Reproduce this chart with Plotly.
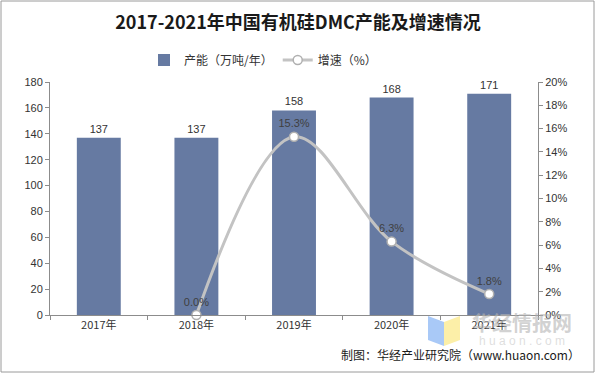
import plotly.graph_objects as go

categories = ["2017年", "2018年", "2019年", "2020年", "2021年"]
capacity = [137, 137, 158, 168, 171]
growth = [None, 0.0, 15.3, 6.3, 1.8]
growth_labels = ["", "0.0%", "15.3%", "6.3%", "1.8%"]

W, H = 596, 374
ml, mr, mt, mb = 50, 58, 82, 59
pw, ph = W - ml - mr, H - mt - mb

def px(x):
    return (x - ml) / pw

def py(y):
    return (H - mb - y) / ph

fig = go.Figure()
fig.add_trace(go.Bar(
    x=categories, y=capacity, name="产能（万吨/年）",
    marker=dict(color="#667AA2", line=dict(width=0)),
    width=0.45,
    text=[str(v) for v in capacity], textposition="outside",
    textfont=dict(family="Liberation Sans, Arial", size=11, color="#333333"),
    cliponaxis=False,
))
fig.add_trace(go.Scatter(
    x=categories, y=growth, name="增速（%）", yaxis="y2",
    mode="lines+markers+text",
    line=dict(color="#C3C3C3", width=3, shape="spline", smoothing=1.0),
    marker=dict(size=9, color="white", line=dict(color="#B0B0B0", width=1.5)),
    text=growth_labels, textposition="top center",
    textfont=dict(family="Liberation Sans, Arial", size=11, color="#404040"),
    cliponaxis=False, connectgaps=False,
))

fig.update_layout(
    width=W, height=H,
    margin=dict(l=ml, r=mr, t=mt, b=mb, pad=0, autoexpand=False),
    paper_bgcolor="white", plot_bgcolor="white",
    title=dict(text="<b>2017-2021年中国有机硅DMC产能及增速情况</b>",
               x=0.5, xanchor="center", y=1 - 23 / H, yanchor="middle",
               font=dict(family="Noto Sans CJK SC", size=18, color="#1a1a1a")),
    showlegend=True,
    legend=dict(orientation="h", x=px(263), xanchor="center", y=py(60), yref="paper",
                yanchor="middle",
                font=dict(family="Noto Sans CJK SC", size=12, color="#333333"),
                itemwidth=30, bgcolor="rgba(0,0,0,0)"),
    bargap=0.55,
    xaxis=dict(type="category", showline=True, linecolor="#8c8c8c", linewidth=1,
               ticks="outside", tickson="boundaries", ticklen=4, tickcolor="#8c8c8c",
               tickfont=dict(family="Noto Sans CJK SC", size=11, color="#333333"),
               showgrid=False, zeroline=False, automargin=False),
    yaxis=dict(range=[0, 180], dtick=20, showline=True, linecolor="#8c8c8c",
               linewidth=1, ticks="outside", ticklen=4, tickcolor="#8c8c8c",
               tickfont=dict(family="Liberation Sans, Arial", size=11, color="#333333"),
               showgrid=False, zeroline=False, automargin=False),
    yaxis2=dict(range=[0, 20], dtick=2, overlaying="y", side="right",
                ticksuffix="%", showline=True, linecolor="#8c8c8c", linewidth=1,
                ticks="outside", ticklen=4, tickcolor="#8c8c8c",
                tickfont=dict(family="Liberation Sans, Arial", size=11, color="#333333"),
                showgrid=False, zeroline=False, automargin=False),
    shapes=[
        dict(type="rect", xref="paper", yref="paper",
             x0=px(1), x1=px(594), y0=py(372), y1=py(1),
             line=dict(color="#9a9a9a", width=1), fillcolor="rgba(0,0,0,0)", layer="below"),
        # watermark logo
        dict(type="path", xref="paper", yref="paper",
             path=f"M {px(428)},{py(316)} L {px(444)},{py(322)} L {px(444)},{py(346)} L {px(428)},{py(340)} Z",
             fillcolor="#A9C9F7", line=dict(width=0), layer="above"),
        dict(type="path", xref="paper", yref="paper",
             path=f"M {px(444)},{py(322)} L {px(460)},{py(316)} L {px(460)},{py(340)} L {px(444)},{py(346)} Z",
             fillcolor="#FCEFA8", line=dict(width=0), layer="above"),
    ],
    annotations=[
        dict(text="<b>华经情报网</b>", xref="paper", yref="paper", x=px(470), y=py(322),
             xanchor="left", yanchor="middle", showarrow=False,
             font=dict(family="Noto Sans CJK SC", size=20, color="rgba(180,180,180,0.6)")),
        dict(text="h u a o n . c o m", xref="paper", yref="paper", x=px(522), y=py(341),
             xanchor="center", yanchor="middle", showarrow=False,
             font=dict(family="Liberation Sans, Arial", size=12, color="rgba(200,200,200,0.6)")),
        dict(text="制图：华经产业研究院（www.huaon.com）", xref="paper", yref="paper",
             x=px(582), y=py(354), xanchor="right", yanchor="middle", showarrow=False,
             font=dict(family="Noto Sans CJK SC", size=12, color="#1a1a1a")),
    ],
)

fig.write_html("out.html", config={"displayModeBar": False},
               post_script="document.body.style.margin='0';")
